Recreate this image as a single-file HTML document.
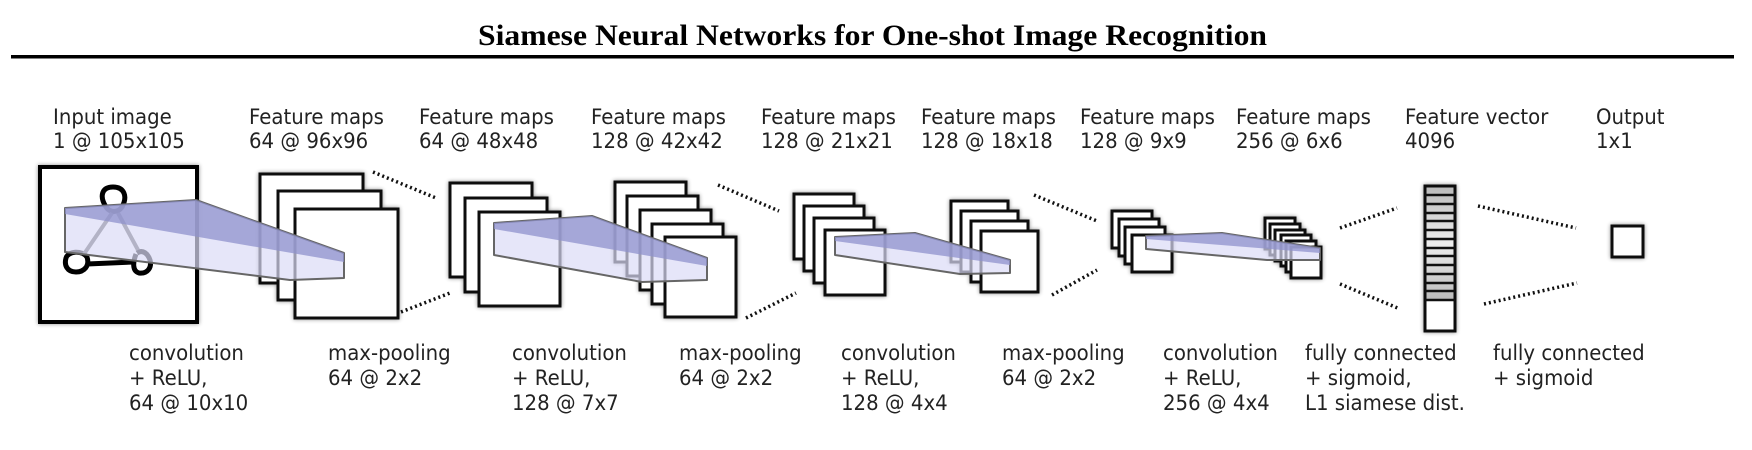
<!DOCTYPE html>
<html><head><meta charset="utf-8"><style>
html,body{margin:0;padding:0;background:#fff;}
svg{display:block;}
.l{font-family:"DejaVu Sans","Liberation Sans",sans-serif;font-size:21px;fill:#222;}
.b{fill:#fff;stroke:#111;stroke-width:3;}
.d{stroke:#111;stroke-width:3.5;stroke-dasharray:2 3;fill:none;}
</style></head><body>
<svg width="1752" height="450" viewBox="0 0 1752 450" xmlns="http://www.w3.org/2000/svg">
<defs>
<filter id="sh" x="-20%" y="-20%" width="140%" height="140%"><feGaussianBlur in="SourceAlpha" stdDeviation="2"/><feOffset dx="0" dy="0"/><feComponentTransfer><feFuncA type="linear" slope="0.45"/></feComponentTransfer><feMerge><feMergeNode/><feMergeNode in="SourceGraphic"/></feMerge></filter>
<linearGradient id="cell" x1="0" y1="0" x2="0" y2="1"><stop offset="0" stop-color="#bbb"/><stop offset="0.5" stop-color="#eee"/><stop offset="1" stop-color="#bbb"/></linearGradient>
</defs>
<text x="478" y="45" font-family="Liberation Serif,serif" font-weight="bold" font-size="30" textLength="789" lengthAdjust="spacingAndGlyphs">Siamese Neural Networks for One-shot Image Recognition</text>
<rect x="11" y="55" width="1723" height="3.5" fill="#000"/>

<g class="l">
<text transform="translate(53,124) scale(0.94,1)">Input image</text><text transform="translate(53,148) scale(0.94,1)">1 @ 105x105</text>
<text transform="translate(249,124) scale(0.94,1)">Feature maps</text><text transform="translate(249,148) scale(0.94,1)">64 @ 96x96</text>
<text transform="translate(419,124) scale(0.94,1)">Feature maps</text><text transform="translate(419,148) scale(0.94,1)">64 @ 48x48</text>
<text transform="translate(591,124) scale(0.94,1)">Feature maps</text><text transform="translate(591,148) scale(0.94,1)">128 @ 42x42</text>
<text transform="translate(761,124) scale(0.94,1)">Feature maps</text><text transform="translate(761,148) scale(0.94,1)">128 @ 21x21</text>
<text transform="translate(921,124) scale(0.94,1)">Feature maps</text><text transform="translate(921,148) scale(0.94,1)">128 @ 18x18</text>
<text transform="translate(1080,124) scale(0.94,1)">Feature maps</text><text transform="translate(1080,148) scale(0.94,1)">128 @ 9x9</text>
<text transform="translate(1236,124) scale(0.94,1)">Feature maps</text><text transform="translate(1236,148) scale(0.94,1)">256 @ 6x6</text>
<text transform="translate(1405,124) scale(0.94,1)">Feature vector</text><text transform="translate(1405,148) scale(0.94,1)">4096</text>
<text transform="translate(1596,124) scale(0.94,1)">Output</text><text transform="translate(1596,148) scale(0.94,1)">1x1</text>

<text transform="translate(129,360) scale(0.94,1)">convolution</text><text transform="translate(129,385) scale(0.94,1)">+ ReLU,</text><text transform="translate(129,410) scale(0.94,1)">64 @ 10x10</text>
<text transform="translate(328,360) scale(0.94,1)">max-pooling</text><text transform="translate(328,385) scale(0.94,1)">64 @ 2x2</text>
<text transform="translate(512,360) scale(0.94,1)">convolution</text><text transform="translate(512,385) scale(0.94,1)">+ ReLU,</text><text transform="translate(512,410) scale(0.94,1)">128 @ 7x7</text>
<text transform="translate(679,360) scale(0.94,1)">max-pooling</text><text transform="translate(679,385) scale(0.94,1)">64 @ 2x2</text>
<text transform="translate(841,360) scale(0.94,1)">convolution</text><text transform="translate(841,385) scale(0.94,1)">+ ReLU,</text><text transform="translate(841,410) scale(0.94,1)">128 @ 4x4</text>
<text transform="translate(1002,360) scale(0.94,1)">max-pooling</text><text transform="translate(1002,385) scale(0.94,1)">64 @ 2x2</text>
<text transform="translate(1163,360) scale(0.94,1)">convolution</text><text transform="translate(1163,385) scale(0.94,1)">+ ReLU,</text><text transform="translate(1163,410) scale(0.94,1)">256 @ 4x4</text>
<text transform="translate(1305,360) scale(0.94,1)">fully connected</text><text transform="translate(1305,385) scale(0.94,1)">+ sigmoid,</text><text transform="translate(1305,410) scale(0.94,1)">L1 siamese dist.</text>
<text transform="translate(1493,360) scale(0.94,1)">fully connected</text><text transform="translate(1493,385) scale(0.94,1)">+ sigmoid</text>
</g>

<rect x="40" y="167" width="157" height="155" fill="#fff" stroke="#000" stroke-width="4" filter="url(#sh)"/>
<g fill="none" stroke="#000" stroke-width="5" stroke-linejoin="round">
<path d="M106,207 C99,196 102,187 113,187 C124,187 128,196 122,207 C118,213 110,213 106,207 Z"/>
<path d="M66,258 C68,251 82,250 87,257 C90,266 84,272 76,272 C67,272 64,265 66,258 Z"/>
<path d="M87,264 L134,262 M136,254 C133,262 132,271 139,273 C148,274 152,267 150,260 C148,254 143,249 137,253"/>
</g>
<g fill="none" stroke="#555" stroke-width="4"><path d="M112,213 L84,254 M118,213 L138,250"/></g>

<g filter="url(#sh)"><rect class="b" x="260" y="174" width="103" height="109"/><rect class="b" x="278" y="191" width="103" height="109"/><rect class="b" x="295" y="209" width="103" height="109"/></g>
<path class="d" d="M373,172 L436,198 M401,312 L450,293"/>
<g filter="url(#sh)"><rect class="b" x="450" y="183" width="82" height="94"/><rect class="b" x="465" y="198" width="82" height="94"/><rect class="b" x="479" y="212" width="81" height="94"/></g>
<g filter="url(#sh)"><rect class="b" x="615" y="182" width="71" height="80"/><rect class="b" x="627" y="196" width="71" height="80"/><rect class="b" x="640" y="210" width="71" height="80"/><rect class="b" x="652" y="224" width="71" height="80"/><rect class="b" x="665" y="237" width="71" height="80"/></g>
<path class="d" d="M718,185 L779,211 M746,318 L796,293"/>
<g filter="url(#sh)"><rect class="b" x="794" y="194" width="60" height="65"/><rect class="b" x="804" y="206" width="60" height="65"/><rect class="b" x="814" y="218" width="60" height="65"/><rect class="b" x="825" y="230" width="60" height="65"/></g>
<g filter="url(#sh)"><rect class="b" x="951" y="201" width="57" height="61"/><rect class="b" x="961" y="211" width="57" height="61"/><rect class="b" x="971" y="221" width="57" height="61"/><rect class="b" x="981" y="231" width="57" height="61"/></g>
<path class="d" d="M1034,195 L1097,221 M1052,295 L1097,270"/>
<g filter="url(#sh)"><rect class="b" x="1112" y="211" width="40" height="37"/><rect class="b" x="1119" y="219" width="40" height="37"/><rect class="b" x="1125" y="227" width="40" height="37"/><rect class="b" x="1132" y="235" width="40" height="37"/></g>
<g filter="url(#sh)"><rect class="b" x="1265" y="218" width="30" height="31"/><rect class="b" x="1270" y="224" width="30" height="31"/><rect class="b" x="1275" y="230" width="30" height="31"/><rect class="b" x="1281" y="235" width="30" height="31"/><rect class="b" x="1286" y="241" width="30" height="31"/><rect class="b" x="1291" y="247" width="30" height="31"/></g>
<path class="d" d="M1340,228 L1397,208 M1340,284 L1400,309"/>
<g filter="url(#sh)"><rect x="1425" y="186" width="30" height="145" fill="#fff" stroke="#111" stroke-width="3"/></g>
<rect x="1426.5" y="187.5" width="27" height="112" fill="url(#cell)"/>
<g stroke="#111" stroke-width="2.5">
<line x1="1425" x2="1455" y1="195" y2="195"/><line x1="1425" x2="1455" y1="204" y2="204"/><line x1="1425" x2="1455" y1="213" y2="213"/><line x1="1425" x2="1455" y1="221" y2="221"/><line x1="1425" x2="1455" y1="230" y2="230"/><line x1="1425" x2="1455" y1="239" y2="239"/><line x1="1425" x2="1455" y1="248" y2="248"/><line x1="1425" x2="1455" y1="256" y2="256"/><line x1="1425" x2="1455" y1="265" y2="265"/><line x1="1425" x2="1455" y1="274" y2="274"/><line x1="1425" x2="1455" y1="283" y2="283"/><line x1="1425" x2="1455" y1="291" y2="291"/><line x1="1425" x2="1455" y1="300" y2="300"/>
</g>
<path class="d" d="M1478,206 L1576,228 M1484,304 L1577,283"/>
<g filter="url(#sh)"><rect class="b" x="1612" y="226" width="31" height="31"/></g>

<g stroke="#666" stroke-width="2" stroke-linejoin="round">
<path d="M65,208 L196,200 L344,253 L344,278 L290,280 L65,252 Z" fill="#dcdcf6" fill-opacity="0.7"/>
<path d="M65,208 L196,200 L344,253 L344,262 L65,214 Z" fill="#8f92cc" fill-opacity="0.75" stroke="none"/>
<path d="M494,223 L592,216 L707,258 L707,280 L642,282 L494,255 Z" fill="#dcdcf6" fill-opacity="0.7"/>
<path d="M494,223 L592,216 L707,258 L707,266 L494,229 Z" fill="#8f92cc" fill-opacity="0.75" stroke="none"/>
<path d="M835,237 L915,233 L1010,260 L1010,273 L960,274 L835,255 Z" fill="#dcdcf6" fill-opacity="0.7"/>
<path d="M835,237 L915,233 L1010,260 L1010,265 L835,241 Z" fill="#8f92cc" fill-opacity="0.75" stroke="none"/>
<path d="M1146,236 L1222,233 L1320,248 L1320,260 L1267,260 L1146,249 Z" fill="#dcdcf6" fill-opacity="0.7"/>
<path d="M1146,236 L1222,233 L1320,248 L1320,253 L1146,239 Z" fill="#8f92cc" fill-opacity="0.75" stroke="none"/>
</g>
</svg>
</body></html>
